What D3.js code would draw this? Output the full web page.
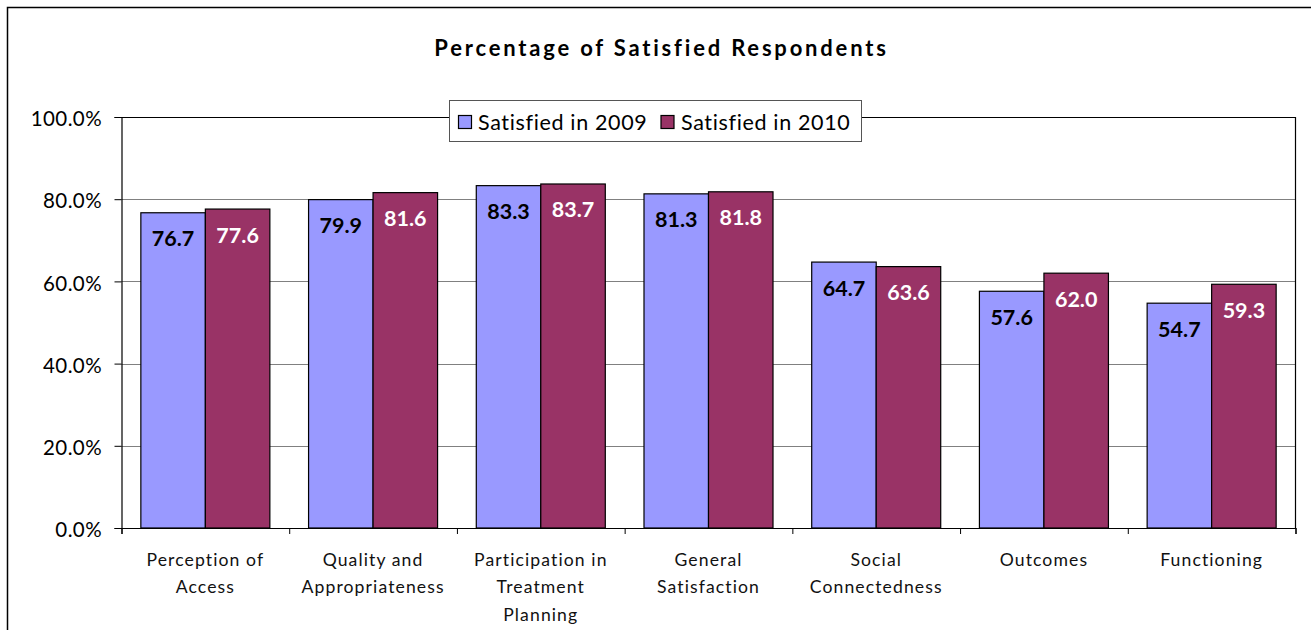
<!DOCTYPE html>
<html>
<head>
<meta charset="utf-8">
<script src="https://cdn.jsdelivr.net/npm/d3@7"></script>
<style>
  html, body { margin: 0; padding: 0; background: #fff; }
  svg { display: block; font-family: Lato, "Noto Sans", sans-serif; }
</style>
</head>
<body>
<svg id="chart" width="1311" height="630"></svg>
<script>
// Survey domains, split into the lines shown under each group
const categories = [
  ["Perception of", "Access"],
  ["Quality and", "Appropriateness"],
  ["Participation in", "Treatment", "Planning"],
  ["General", "Satisfaction"],
  ["Social", "Connectedness"],
  ["Outcomes"],
  ["Functioning"]
];
const seriesNames = ["Satisfied in 2009", "Satisfied in 2010"];
const satisfied2009 = [76.7, 79.9, 83.3, 81.3, 64.7, 57.6, 54.7];
const satisfied2010 = [77.6, 81.6, 83.7, 81.8, 63.6, 62.0, 59.3];
const yTicks = [0, 20, 40, 60, 80, 100];

const colors = ["#9999FF", "#993366"];
const labelColors = ["#000000", "#FFFFFF"];

const svg = d3.select("#chart");

// Outer chart frame (right and bottom edges run past the page)
svg.append("rect")
  .attr("x", 7.5).attr("y", 7.5)
  .attr("width", 1400).attr("height", 800)
  .attr("fill", "none").attr("stroke", "#000").attr("stroke-width", 1.5);

const plot = { left: 121.5, right: 1295.5, top: 117, bottom: 528 };

const x = d3.scaleBand()
  .domain(d3.range(categories.length))
  .range([plot.left, plot.right])
  .paddingInner(0).paddingOuter(0);

const bw = x.bandwidth();
const gapRatio = 0.6;               // gap between groups relative to one bar
const barW = bw / (2 + gapRatio);
const groupPad = (bw - 2 * barW) / 2;

const xInner = d3.scaleBand()
  .domain([0, 1])
  .range([groupPad, groupPad + 2 * barW])
  .padding(0);

const y = d3.scaleLinear().domain([0, 100]).range([plot.bottom, plot.top]);

// Title
svg.append("text")
  .attr("x", 661.5).attr("y", 56)
  .attr("text-anchor", "middle")
  .attr("font-size", 22).attr("font-weight", "bold")
  .attr("letter-spacing", 2.8)
  .style("font-variant-ligatures", "none")
  .attr("fill", "#000")
  .text("Percentage of Satisfied Respondents");

// Horizontal gridlines
svg.append("g")
  .selectAll("line")
  .data(yTicks.filter(t => t > 0 && t < 100))
  .join("line")
  .attr("x1", plot.left).attr("x2", plot.right)
  .attr("y1", d => Math.round(y(d)) + 0.5).attr("y2", d => Math.round(y(d)) + 0.5)
  .attr("stroke", "#808080").attr("stroke-width", 1);

// Plot area border (top and right)
svg.append("path")
  .attr("d", `M${plot.left},${plot.top + 0.5}H${plot.right}V${plot.bottom}`)
  .attr("fill", "none").attr("stroke", "#000").attr("stroke-width", 1.2);

// Y axis
const yAxis = d3.axisLeft(y)
  .tickValues(yTicks)
  .tickFormat(d => d3.format(".1f")(d) + "%")
  .tickSize(7).tickPadding(12.5);

const gy = svg.append("g")
  .attr("transform", `translate(${plot.left},0)`)
  .call(yAxis);
gy.select(".domain").attr("stroke", "#000").attr("stroke-width", 1.2);
gy.selectAll(".tick line").attr("stroke", "#000");
gy.selectAll(".tick text")
  .attr("font-family", "Lato, 'Noto Sans', sans-serif")
  .attr("font-size", 20.5).attr("fill", "#000")
  .attr("letter-spacing", 0.4)
  .attr("dy", "0.42em");

// X axis: ticks sit on category boundaries
const xAxisScale = d3.scaleLinear().domain([0, categories.length]).range([plot.left, plot.right]);
const gx = svg.append("g")
  .attr("transform", `translate(0,${plot.bottom})`)
  .call(d3.axisBottom(xAxisScale).tickValues(d3.range(categories.length + 1)).tickSize(6).tickFormat(""));
gx.select(".domain").attr("stroke", "#000").attr("stroke-width", 1.2);
gx.selectAll(".tick line").attr("stroke", "#000");

// Category labels
const catG = svg.append("g")
  .selectAll("text")
  .data(categories)
  .join("text")
  .attr("text-anchor", "middle")
  .attr("font-size", 17.6).attr("fill", "#111")
  .attr("letter-spacing", 1.1)
  .attr("x", (d, i) => x(i) + bw / 2)
  .attr("y", 566);
catG.selectAll("tspan")
  .data(d => d)
  .join("tspan")
  .attr("x", function () { return d3.select(this.parentNode).attr("x"); })
  .attr("dy", (d, j) => j === 0 ? 0 : 27.3)
  .text(d => d);

// Bars
const series = [satisfied2009, satisfied2010];
const groups = svg.append("g")
  .selectAll("g")
  .data(categories.map((c, i) => series.map((s, k) => ({ k, i, v: s[i] }))))
  .join("g")
  .attr("transform", (d, i) => `translate(${x(i)},0)`);

groups.selectAll("rect")
  .data(d => d)
  .join("rect")
  .attr("x", d => xInner(d.k))
  .attr("width", xInner.bandwidth())
  .attr("y", d => y(d.v))
  .attr("height", d => y(0) - y(d.v))
  .attr("fill", d => colors[d.k])
  .attr("stroke", "#000").attr("stroke-width", 1.2);

// Value labels inside the top of each bar
groups.selectAll("text")
  .data(d => d)
  .join("text")
  .attr("x", d => xInner(d.k) + xInner.bandwidth() / 2)
  .attr("y", d => y(d.v) + 33.5)
  .attr("text-anchor", "middle")
  .attr("font-size", 21.5).attr("font-weight", "bold")
  .attr("fill", d => labelColors[d.k])
  .text(d => d3.format(".1f")(d.v));

// Legend
const legend = svg.append("g");
legend.append("rect")
  .attr("x", 449.5).attr("y", 100.5)
  .attr("width", 412).attr("height", 41)
  .attr("fill", "#fff").attr("stroke", "#555").attr("stroke-width", 1);

const legendItems = [
  { name: seriesNames[0], color: colors[0], sx: 458, tx: 478 },
  { name: seriesNames[1], color: colors[1], sx: 660.5, tx: 681 }
];
legend.selectAll("g.item")
  .data(legendItems)
  .join("g").attr("class", "item")
  .each(function (d) {
    const g = d3.select(this);
    g.append("rect")
      .attr("x", d.sx + 0.5).attr("y", 115.5)
      .attr("width", 13).attr("height", 13)
      .attr("fill", d.color).attr("stroke", "#000").attr("stroke-width", 1.2);
    g.append("text")
      .attr("x", d.tx).attr("y", 130)
      .attr("font-size", 21.5).attr("fill", "#000")
      .attr("letter-spacing", 0.65)
      .text(d.name);
  });
</script>
</body>
</html>
